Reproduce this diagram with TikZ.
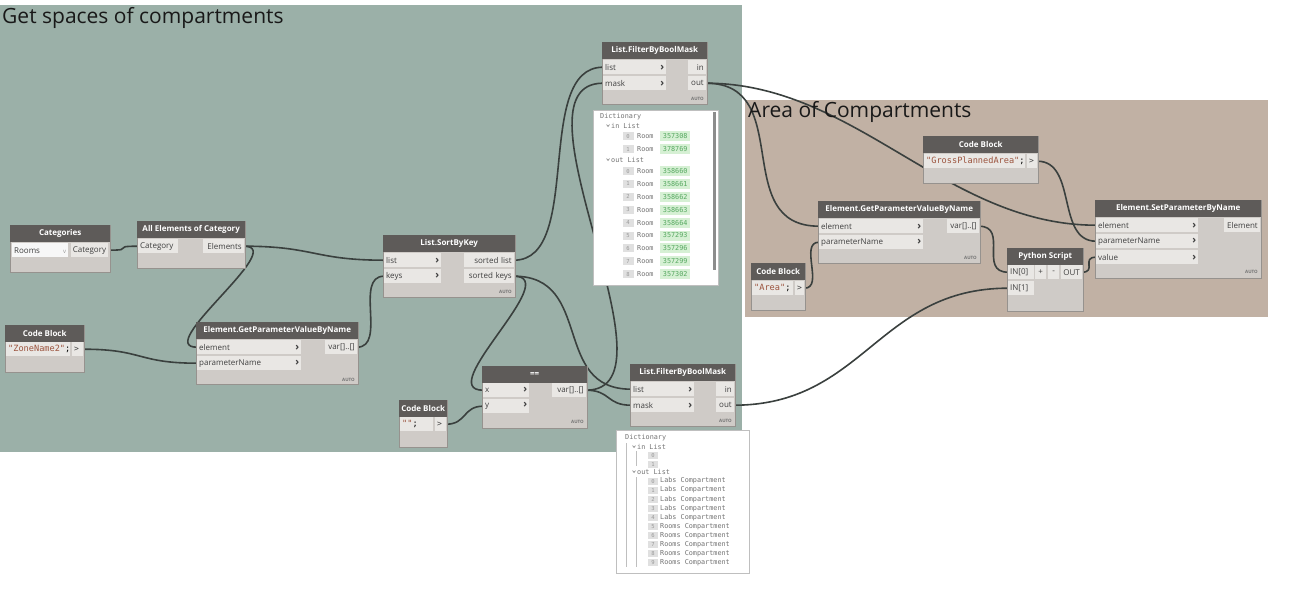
\documentclass[tikz,border=0pt]{standalone}
\usepackage{fontspec}
\setmainfont{Open Sans}
\setmonofont{DejaVu Sans Mono}
\usetikzlibrary{positioning}

\definecolor{grpgreen}{RGB}{155,176,168}
\definecolor{grpbrown}{RGB}{193,177,164}
\definecolor{nodehead}{RGB}{94,91,89}
\definecolor{nodebody}{RGB}{207,203,199}
\definecolor{portfill}{RGB}{233,231,228}
\definecolor{nodeedge}{RGB}{150,146,142}
\definecolor{wirecol}{RGB}{58,64,62}
\definecolor{strcol}{RGB}{156,84,62}
\definecolor{idgreen}{RGB}{214,240,212}
\definecolor{idtext}{RGB}{86,168,96}

\newcommand{\chev}{{\fontsize{10.5}{8}\selectfont\bfseries ›}}

\pgfdeclarelayer{groups}
\pgfdeclarelayer{wires}
\pgfsetlayers{groups,wires,main}

\begin{document}
\begin{tikzpicture}[
    x=1pt, y=-1pt,
    body/.style={draw=nodeedge, fill=nodebody, anchor=north west,
        inner sep=0pt, minimum height=47},
    head/.style={fill=nodehead, text=white, anchor=north west, inner sep=0pt,
        minimum height=17, font=\fontsize{8}{9}\selectfont\bfseries},
    inport/.style={fill=portfill, anchor=north west, inner xsep=2pt, inner ysep=0pt,
        minimum height=14, align=left, text=black!75,
        font=\fontsize{8}{9}\selectfont},
    outport/.style={inport, anchor=north east, align=right},
    codetxt/.style={inport, font=\fontsize{8.6}{9}\ttfamily, text=strcol},
    lacing/.style={anchor=east, inner sep=0pt, text=black!55,
        font=\fontsize{4.5}{5}\selectfont\bfseries},
    grptitle/.style={anchor=west, inner sep=0pt, text=black!90,
        font=\fontsize{21}{24}\selectfont},
    popup/.style={draw=black!25, fill=white, anchor=north west, inner sep=0pt},
    dtxt/.style={anchor=west, inner sep=0pt, text=black!55,
        font=\fontsize{6.8}{7}\ttfamily},
    idx/.style={fill=black!12, text=black!40, inner sep=0pt, minimum width=11,
        minimum height=8, font=\fontsize{5.5}{6}\ttfamily},
    idbox/.style={fill=idgreen, text=idtext, anchor=west, inner sep=0pt,
        minimum width=30, minimum height=10, font=\fontsize{6.8}{7}\ttfamily},
    wire/.style={draw=wirecol, line width=1.6pt}
]
\useasboundingbox (0,0) rectangle (1315,592);

% groups
\begin{pgfonlayer}{groups}
\fill[white] (0,0) rectangle (1315,592);
\fill[grpgreen] (0,5) rectangle (742,452);
\fill[grpbrown] (745,100) rectangle (1268,317);
\end{pgfonlayer}
\node[grptitle] (gtitle) at (2,18) {Get spaces of compartments};
\node[grptitle] (atitle) at (748,112) {Area of Compartments};

% Categories
\node[body, minimum width=100] (cat) at (10,225) {};
\node[head, minimum width=100] (cat-h) at (cat.north west) {Categories};
\node[inport, fill=black!3, text width=52] (cat-drop) at (12,243) {Rooms\hfill{\color{black!40}\fontsize{6}{6}\selectfont v}};
\node[outport, text width=33] (cat-out) at (108,243) {Category};

% All Elements of Category
\node[body, minimum width=108] (ae) at (137,221) {};
\node[head, minimum width=108] (ae-h) at (ae.north west) {All Elements of Category};
\node[inport, text width=36] (ae-in) at (138,239) {Category};
\node[outport, text width=37] (ae-out) at (244,239) {Elements};

% Code Block "ZoneName2"
\node[body, minimum width=79] (zn) at (5,325) {};
\node[head, minimum width=79] (zn-h) at (zn.north west) {Code Block};
\node[codetxt, text width=60] (zn-code) at (6,342) {"ZoneName2"{\color{black};}};
\node[inport, text width=7] (zn-go) at (72,342) {\texttt{>}};

% Element.GetParameterValueByName (left)
\node[body, minimum width=162, minimum height=62] (gpl) at (196,322) {};
\node[head, minimum width=162] (gpl-h) at (gpl.north west) {Element.GetParameterValueByName};
\node[inport, text width=100] (gpl-el) at (197,340) {element\hfill\chev};
\node[inport, text width=100] (gpl-pn) at (197,356) {parameterName\hfill\chev};
\node[outport, text width=28] (gpl-var) at (357,340) {var[]..[]};
\node[lacing] (gpl-l) at (355,380) {AUTO};

% List.SortByKey
\node[body, minimum width=132, minimum height=62] (sbk) at (383,235) {};
\node[head, minimum width=132] (sbk-h) at (sbk.north west) {List.SortByKey};
\node[inport, text width=53] (sbk-list) at (384,253) {list\hfill\chev};
\node[inport, text width=53] (sbk-keys) at (384,269) {keys\hfill\chev};
\node[outport, text width=46] (sbk-sl) at (514,253) {sorted list};
\node[outport, text width=46] (sbk-sk) at (514,269) {sorted keys};
\node[lacing] (sbk-l) at (512,292) {AUTO};

% ==
\node[body, minimum width=105, minimum height=62] (eq) at (482,366) {};
\node[head, minimum width=105] (eq-h) at (eq.north west) {==};
\node[inport, text width=42] (eq-x) at (483,383) {x\hfill\chev};
\node[inport, text width=42] (eq-y) at (483,399) {y\hfill\chev};
\node[outport, text width=30] (eq-var) at (586,383) {var[]..[]};
\node[lacing] (eq-l) at (584,422) {AUTO};

% Code Block ""
\node[body, minimum width=48] (es) at (399,400) {};
\node[head, minimum width=48] (es-h) at (es.north west) {Code Block};
\node[codetxt, text width=29] (es-code) at (400,417) {""{\color{black};}};
\node[inport, text width=7] (es-go) at (435,417) {\texttt{>}};

% List.FilterByBoolMask (top)
\node[body, minimum width=105, minimum height=62] (ft) at (602,42) {};
\node[head, minimum width=105] (ft-h) at (ft.north west) {List.FilterByBoolMask};
\node[inport, text width=59] (ft-list) at (603,60) {list\hfill\chev};
\node[inport, text width=59] (ft-mask) at (603,76) {mask\hfill\chev};
\node[outport, text width=14] (ft-in) at (706,60) {in};
\node[outport, text width=14] (ft-out) at (706,76) {out};
\node[lacing] (ft-l) at (704,99) {AUTO};

% List.FilterByBoolMask (bottom)
\node[body, minimum width=105, minimum height=62] (fb) at (630,364) {};
\node[head, minimum width=105] (fb-h) at (fb.north west) {List.FilterByBoolMask};
\node[inport, text width=59] (fb-list) at (631,382) {list\hfill\chev};
\node[inport, text width=59] (fb-mask) at (631,398) {mask\hfill\chev};
\node[outport, text width=14] (fb-in) at (734,382) {in};
\node[outport, text width=14] (fb-out) at (734,398) {out};
\node[lacing] (fb-l) at (732,421) {AUTO};

% Code Block "GrossPlannedArea"
\node[body, minimum width=115] (gpa) at (923,136) {};
\node[head, minimum width=115] (gpa-h) at (gpa.north west) {Code Block};
\node[codetxt, text width=97] (gpa-code) at (924,154) {"GrossPlannedArea"{\color{black};}};
\node[inport, text width=6] (gpa-go) at (1027,154) {\texttt{>}};

% Element.GetParameterValueByName (right)
\node[body, minimum width=162, minimum height=62] (gpr) at (818,201) {};
\node[head, minimum width=162] (gpr-h) at (gpr.north west) {Element.GetParameterValueByName};
\node[inport, text width=100] (gpr-el) at (819,219) {element\hfill\chev};
\node[inport, text width=100] (gpr-pn) at (819,235) {parameterName\hfill\chev};
\node[outport, text width=28] (gpr-var) at (979,219) {var[]..[]};
\node[lacing] (gpr-l) at (977,258) {AUTO};

% Code Block "Area"
\node[body, minimum width=54] (ar) at (751,263) {};
\node[head, minimum width=54] (ar-h) at (ar.north west) {Code Block};
\node[codetxt, text width=37] (ar-code) at (752,281) {"Area"{\color{black};}};
\node[inport, text width=5] (ar-go) at (795,281) {\texttt{>}};

% Python Script
\node[body, minimum width=76, minimum height=63] (py) at (1007,248) {};
\node[head, minimum width=76] (py-h) at (py.north west) {Python Script};
\node[inport, text width=22] (py-in0) at (1008,265) {IN[0]};
\node[inport, text width=7, align=center] (py-plus) at (1035,265) {+};
\node[inport, text width=7, align=center] (py-minus) at (1048,265) {-};
\node[outport, text width=17] (py-out) at (1082,265) {OUT};
\node[inport, text width=22] (py-in1) at (1008,281) {IN[1]};

% Element.SetParameterByName
\node[body, minimum width=166, minimum height=78] (sp) at (1095,200) {};
\node[head, minimum width=166] (sp-h) at (sp.north west) {Element.SetParameterByName};
\node[inport, text width=98] (sp-el) at (1096,218) {element\hfill\chev};
\node[inport, text width=98] (sp-pn) at (1096,234) {parameterName\hfill\chev};
\node[inport, text width=98] (sp-val) at (1096,250) {value\hfill\chev};
\node[outport, text width=32] (sp-out) at (1260,218) {Element};
\node[lacing] (sp-l) at (1258,272) {AUTO};

% watch popup under the top filter
\node[popup, minimum width=125, minimum height=175] (dtop) at (593,110) {};
\fill[black!45] (713,112) rectangle (716,270);
\node[dtxt] (dtop-t) at (600,117) {Dictionary};
\draw[black!50, line width=0.6pt] (606.5,124.5) -- (608,126.5) -- (609.5,124.5);
\node[dtxt] (dtop-in) at (611,126) {in List};
\draw[black!50, line width=0.6pt] (606.5,158.5) -- (608,160.5) -- (609.5,158.5);
\node[dtxt] (dtop-out) at (611,160) {out List};
\foreach \id [count=\k from 0] in {357308,378769} {
    \node[idx] (dti\k) at (628,{136+13*\k}) {\k};
    \node[dtxt] (dtr\k) at (637,{136+13*\k}) {Room};
    \node[idbox] (dtg\k) at (660,{136+13*\k}) {\id};
}
\foreach \id [count=\k from 0] in {358660,358661,358662,358663,358664,357293,357296,357299,357302} {
    \node[idx] (dto\k) at (628,{171+12.9*\k}) {\k};
    \node[dtxt] (dtp\k) at (637,{171+12.9*\k}) {Room};
    \node[idbox] (dth\k) at (660,{171+12.9*\k}) {\id};
}

% watch popup under the bottom filter
\node[popup, minimum width=133, minimum height=143] (dbot) at (616,430) {};
\draw[black!25, line width=0.5pt] (626,443) -- (626,567) (636,451) -- (636,466) (636,477) -- (636,567);
\node[dtxt] (dbot-t) at (625,438) {Dictionary};
\draw[black!50, line width=0.6pt] (632.5,445.5) -- (634,447.5) -- (635.5,445.5);
\node[dtxt] (dbot-in) at (637,447) {in List};
\draw[black!50, line width=0.6pt] (632.5,470.5) -- (634,472.5) -- (635.5,470.5);
\node[dtxt] (dbot-out) at (637,472) {out List};
\foreach \k in {0,1}
    \node[idx, minimum width=10, minimum height=7] (dbi\k) at (653,{455+9*\k}) {\k};
\foreach \txt [count=\k from 0] in {Labs,Labs,Labs,Labs,Labs,Rooms,Rooms,Rooms,Rooms,Rooms} {
    \node[idx, minimum width=10, minimum height=7] (dbo\k) at (653,{481+9.1*\k}) {\k};
    \node[dtxt] (dbt\k) at (660,{481+9.1*\k}) {\txt\ Compartment};
}

% wires (behind the nodes)
\begin{pgfonlayer}{wires}
\draw[wire] (cat-out.east) .. controls +(30,0) and +(-30,0) .. (ae-in.west);
\draw[wire] (ae-out.east) .. controls +(70,0) and +(-70,0) .. (sbk-list.west);
\draw[wire] (ae-out.east) .. controls +(45,0) and +(-45,0) .. (gpl-el.west);
\draw[wire] (zn-go.east) .. controls +(60,0) and +(-60,0) .. (gpl-pn.west);
\draw[wire] (gpl-var.east) .. controls +(30,0) and +(-30,0) .. (sbk-keys.west);
\draw[wire] (sbk-sl.east) .. controls +(70,0) and +(-70,0) .. (ft-list.west);
\draw[wire] (sbk-sk.east) .. controls +(50,0) and +(-50,0) .. (eq-x.west);
\draw[wire] (sbk-sk.east) .. controls +(80,0) and +(-80,0) .. (fb-list.west);
\draw[wire] (eq-var.east) .. controls +(100,0) and +(-100,0) .. (ft-mask.west);
\draw[wire] (eq-var.east) .. controls +(25,0) and +(-25,0) .. (fb-mask.west);
\draw[wire] (es-go.east) .. controls +(20,0) and +(-20,0) .. (eq-y.west);
\draw[wire] (ft-out.east) .. controls +(90,0) and +(-90,0) .. (gpr-el.west);
\draw[wire] (ft-out.east) .. controls +(150,0) and +(-150,0) .. (sp-el.west);
\draw[wire] (gpa-go.east) .. controls +(40,0) and +(-40,0) .. (sp-pn.west);
\draw[wire] (ar-go.east) .. controls +(20,0) and +(-20,0) .. (gpr-pn.west);
\draw[wire] (gpr-var.east) .. controls +(30,0) and +(-30,0) .. (py-in0.west);
\draw[wire] (fb-out.east) .. controls +(130,0) and +(-130,0) .. (py-in1.west);
\draw[wire] (py-out.east) .. controls +(15,0) and +(-15,0) .. (sp-val.west);
\end{pgfonlayer}

\end{tikzpicture}
\end{document}
